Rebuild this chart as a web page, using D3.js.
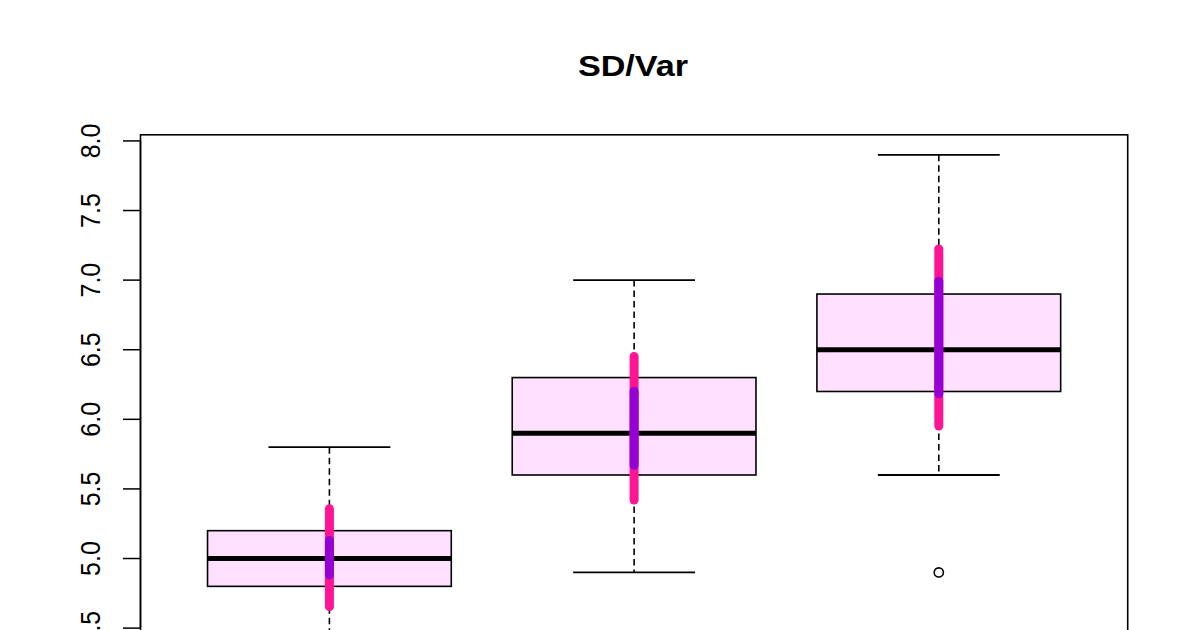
<!DOCTYPE html>
<html>
<head>
<meta charset="utf-8">
<script src="https://cdn.jsdelivr.net/npm/d3@7"></script>
<style>
  body { margin: 0; background: #fff; }
  svg { display: block; }
</style>
</head>
<body>
<div id="chart"></div>
<script>
// valores (Sepal.Length por especie)
var especies = ["setosa", "versicolor", "virginica"];
var bigoteInf = [4.3, 4.9, 5.6];
var cuartil1 = [4.8, 5.6, 6.2];
var medianas = [5.0, 5.9, 6.5];
var cuartil3 = [5.2, 6.3, 6.9];
var bigoteSup = [5.8, 7.0, 7.9];
var atipicos = [[], [], [4.9]];
var medias = [5.006, 5.936, 6.588];
var desvios = [0.352, 0.516, 0.636];
var varianzas = [0.124, 0.266, 0.404];
var ticksY = [4.5, 5.0, 5.5, 6.0, 6.5, 7.0, 7.5, 8.0];

var W = 1200, H = 630;
var estira = 1.14;   // el texto del original esta estirado en horizontal

var svg = d3.select("#chart").append("svg")
	.attr("width", W)
	.attr("height", H);

var x = d3.scaleLinear().domain([0.38, 3.62]).range([140.5, 1127.7]);
var y = d3.scaleLinear().domain([4.156, 8.044]).range([676, 134.8]);

var datos = especies.map(function(d, i){
	return {
		i: i + 1, nombre: d,
		lo: bigoteInf[i], q1: cuartil1[i], med: medianas[i], q3: cuartil3[i], hi: bigoteSup[i],
		out: atipicos[i], media: medias[i], sd: desvios[i], v: varianzas[i]
	};
});

// titulo
svg.append("g")
	.attr("transform", "translate(633,76) scale(" + estira + ",1)")
	.append("text")
	.attr("text-anchor", "middle")
	.attr("font-family", "Liberation Sans, Arial, sans-serif")
	.attr("font-weight", "bold")
	.attr("font-size", "30px")
	.attr("fill", "#000")
	.text("SD/Var");

// eje y
var eje = svg.append("g");
eje.append("line")
	.attr("x1", x.range()[0]).attr("x2", x.range()[0])
	.attr("y1", y(4.5)).attr("y2", y(8.0))
	.attr("stroke", "#000").attr("stroke-width", 1.5);
eje.selectAll("line.tick")
	.data(ticksY)
	.enter()
	.append("line")
	.attr("class", "tick")
	.attr("x1", 123).attr("x2", x.range()[0])
	.attr("y1", function(d){ return y(d); })
	.attr("y2", function(d){ return y(d); })
	.attr("stroke", "#000").attr("stroke-width", 1.5);
eje.selectAll("g.lab")
	.data(ticksY)
	.enter()
	.append("g")
	.attr("class", "lab")
	.attr("transform", function(d){ return "translate(100," + y(d) + ") scale(" + estira + ",1) rotate(-90)"; })
	.append("text")
	.attr("text-anchor", "middle")
	.attr("font-family", "Liberation Sans, Arial, sans-serif")
	.attr("font-size", "25px")
	.attr("fill", "#000")
	.text(function(d){ return d3.format(".1f")(d); });

var g = svg.selectAll("g.caja")
	.data(datos)
	.enter()
	.append("g")
	.attr("class", "caja");

// bigotes punteados
g.append("line")
	.attr("x1", function(d){ return x(d.i); }).attr("x2", function(d){ return x(d.i); })
	.attr("y1", function(d){ return y(d.hi); }).attr("y2", function(d){ return y(d.q3); })
	.attr("stroke", "#000").attr("stroke-width", 1.6).attr("stroke-dasharray", "6.5,4");
g.append("line")
	.attr("x1", function(d){ return x(d.i); }).attr("x2", function(d){ return x(d.i); })
	.attr("y1", function(d){ return y(d.q1); }).attr("y2", function(d){ return y(d.lo); })
	.attr("stroke", "#000").attr("stroke-width", 1.6).attr("stroke-dasharray", "6.5,4");
// topes de los bigotes
["hi", "lo"].forEach(function(k){
	g.append("line")
		.attr("x1", function(d){ return x(d.i - 0.2); }).attr("x2", function(d){ return x(d.i + 0.2); })
		.attr("y1", function(d){ return y(d[k]); }).attr("y2", function(d){ return y(d[k]); })
		.attr("stroke", "#000").attr("stroke-width", 1.8);
});

// caja
g.append("rect")
	.attr("x", function(d){ return x(d.i - 0.4); })
	.attr("width", function(d){ return x(d.i + 0.4) - x(d.i - 0.4); })
	.attr("y", function(d){ return y(d.q3); })
	.attr("height", function(d){ return y(d.q1) - y(d.q3); })
	.attr("fill", "#FFE0FF")
	.attr("stroke", "#000").attr("stroke-width", 1.6);

// mediana
g.append("line")
	.attr("x1", function(d){ return x(d.i - 0.4); }).attr("x2", function(d){ return x(d.i + 0.4); })
	.attr("y1", function(d){ return y(d.med); }).attr("y2", function(d){ return y(d.med); })
	.attr("stroke", "#000").attr("stroke-width", 5);

// atipicos
g.selectAll("circle")
	.data(function(d){ return d.out.map(function(o){ return {i: d.i, v: o}; }); })
	.enter()
	.append("circle")
	.attr("cx", function(d){ return x(d.i); })
	.attr("cy", function(d){ return y(d.v); })
	.attr("r", 4.6)
	.attr("fill", "none")
	.attr("stroke", "#000").attr("stroke-width", 1.6);

// media +- sd (rosa) y media +- var (violeta)
g.append("line")
	.attr("x1", function(d){ return x(d.i); }).attr("x2", function(d){ return x(d.i); })
	.attr("y1", function(d){ return y(d.media + d.sd); }).attr("y2", function(d){ return y(d.media - d.sd); })
	.attr("stroke", "#FF1493").attr("stroke-width", 9).attr("stroke-linecap", "round");
g.append("line")
	.attr("x1", function(d){ return x(d.i); }).attr("x2", function(d){ return x(d.i); })
	.attr("y1", function(d){ return y(d.media + d.v); }).attr("y2", function(d){ return y(d.media - d.v); })
	.attr("stroke", "#9400D3").attr("stroke-width", 9).attr("stroke-linecap", "round");

// marco del grafico
svg.append("rect")
	.attr("x", x.range()[0])
	.attr("y", y.range()[1])
	.attr("width", x.range()[1] - x.range()[0])
	.attr("height", y.range()[0] - y.range()[1])
	.attr("fill", "none")
	.attr("stroke", "#000").attr("stroke-width", 1.6);
</script>
</body>
</html>
